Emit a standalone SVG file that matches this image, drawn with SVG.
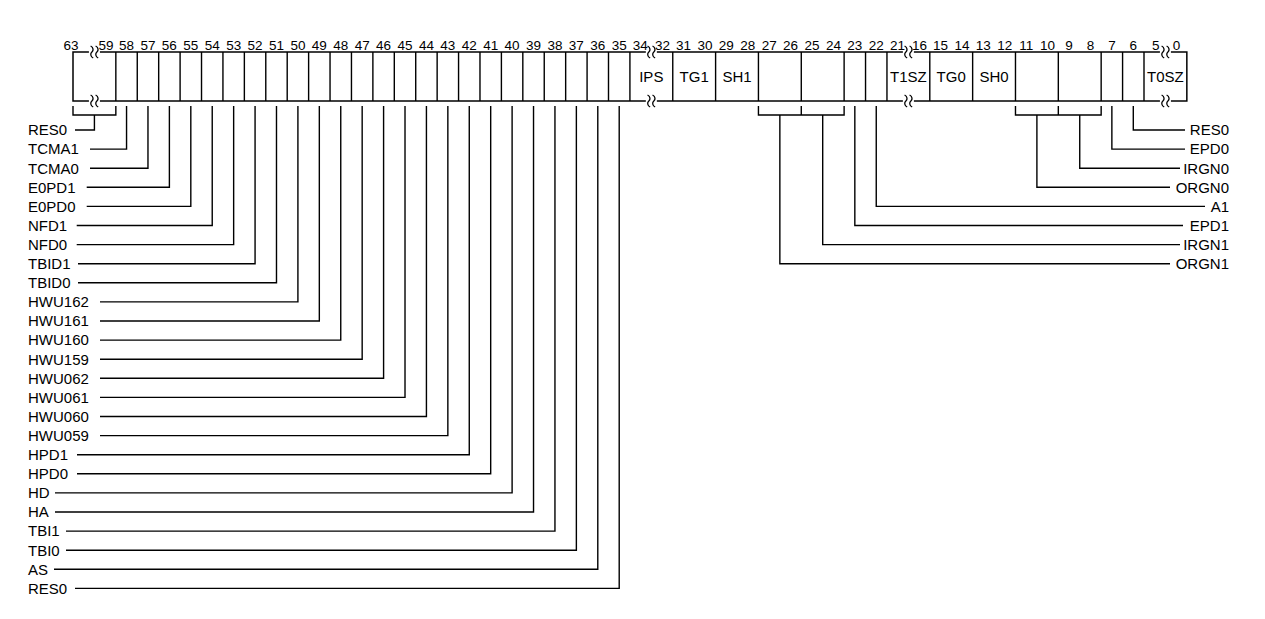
<svg xmlns="http://www.w3.org/2000/svg" width="1265" height="619" viewBox="0 0 1265 619">
<style>
.ln{stroke:#000;stroke-width:1.4;fill:none}
.bx{stroke:#000;stroke-width:1.5;fill:#fff}
text{font-family:"Liberation Sans",Arial,sans-serif;fill:#000}
.lbl{font-size:15px}
.r{text-anchor:end}
.num{font-size:13.5px;text-anchor:middle}
.fld{font-size:15px;text-anchor:middle}
</style>
<defs>
<g id="brk">
<rect x="-5.5" y="-2" width="11" height="4" fill="#fff"/>
<path d="M-3.8,-6 C-0.8,-4.5 -0.8,-1.5 -2.5,0 C-4.2,1.5 -4.2,4.5 -1.2,6 M1.2,-6 C4.2,-4.5 4.2,-1.5 2.5,0 C0.8,1.5 0.8,4.5 3.8,6" fill="none" stroke="#000" stroke-width="1.3"/>
</g>
</defs>
<rect width="1265" height="619" fill="#fff"/>

<g id="register">
<rect class="bx" x="73" y="52" width="1113.84" height="49"/>
<path class="ln" d="M115.84 52V101M137.26 52V101M158.68 52V101M180.1 52V101M201.52 52V101M222.94 52V101M244.36 52V101M265.78 52V101M287.2 52V101M308.62 52V101M330.04 52V101M351.46 52V101M372.88 52V101M394.3 52V101M415.72 52V101M437.14 52V101M458.56 52V101M479.98 52V101M501.4 52V101M522.82 52V101M544.24 52V101M565.66 52V101M587.08 52V101M608.5 52V101M629.92 52V101M672.76 52V101M715.6 52V101M758.44 52V101M801.28 52V101M844.12 52V101M865.54 52V101M886.96 52V101M929.8 52V101M972.64 52V101M1015.48 52V101M1058.32 52V101M1101.16 52V101M1122.58 52V101M1144 52V101"/>
<use href="#brk" x="94.42" y="52"/><use href="#brk" x="94.42" y="101"/>
<use href="#brk" x="651.34" y="52"/><use href="#brk" x="651.34" y="101"/>
<use href="#brk" x="908.38" y="52"/><use href="#brk" x="908.38" y="101"/>
<use href="#brk" x="1165.42" y="52"/><use href="#brk" x="1165.42" y="101"/>
<text class="fld" x="651.3" y="82">IPS</text>
<text class="fld" x="694.2" y="82">TG1</text>
<text class="fld" x="737" y="82">SH1</text>
<text class="fld" x="908.4" y="82">T1SZ</text>
<text class="fld" x="951.2" y="82">TG0</text>
<text class="fld" x="994.1" y="82">SH0</text>
<text class="fld" x="1165.4" y="82">T0SZ</text>
</g>

<g id="bit-numbers">
<text class="num" x="71" y="50">63</text>
<text class="num" x="106" y="50">59</text>
<text class="num" x="126.55" y="50">58</text>
<text class="num" x="147.97" y="50">57</text>
<text class="num" x="169.39" y="50">56</text>
<text class="num" x="190.81" y="50">55</text>
<text class="num" x="212.23" y="50">54</text>
<text class="num" x="233.65" y="50">53</text>
<text class="num" x="255.07" y="50">52</text>
<text class="num" x="276.49" y="50">51</text>
<text class="num" x="297.91" y="50">50</text>
<text class="num" x="319.33" y="50">49</text>
<text class="num" x="340.75" y="50">48</text>
<text class="num" x="362.17" y="50">47</text>
<text class="num" x="383.59" y="50">46</text>
<text class="num" x="405.01" y="50">45</text>
<text class="num" x="426.43" y="50">44</text>
<text class="num" x="447.85" y="50">43</text>
<text class="num" x="469.27" y="50">42</text>
<text class="num" x="490.69" y="50">41</text>
<text class="num" x="512.11" y="50">40</text>
<text class="num" x="533.53" y="50">39</text>
<text class="num" x="554.95" y="50">38</text>
<text class="num" x="576.37" y="50">37</text>
<text class="num" x="597.79" y="50">36</text>
<text class="num" x="619.21" y="50">35</text>
<text class="num" x="640.3" y="50">34</text>
<text class="num" x="662.4" y="50">32</text>
<text class="num" x="683.5" y="50">31</text>
<text class="num" x="704.9" y="50">30</text>
<text class="num" x="726.3" y="50">29</text>
<text class="num" x="747.7" y="50">28</text>
<text class="num" x="769.2" y="50">27</text>
<text class="num" x="790.6" y="50">26</text>
<text class="num" x="812" y="50">25</text>
<text class="num" x="833.4" y="50">24</text>
<text class="num" x="854.8" y="50">23</text>
<text class="num" x="876.3" y="50">22</text>
<text class="num" x="897.4" y="50">21</text>
<text class="num" x="919.4" y="50">16</text>
<text class="num" x="940.5" y="50">15</text>
<text class="num" x="961.9" y="50">14</text>
<text class="num" x="983.3" y="50">13</text>
<text class="num" x="1004.8" y="50">12</text>
<text class="num" x="1026.2" y="50">11</text>
<text class="num" x="1047.6" y="50">10</text>
<text class="num" x="1069" y="50">9</text>
<text class="num" x="1090.4" y="50">8</text>
<text class="num" x="1111.9" y="50">7</text>
<text class="num" x="1133.3" y="50">6</text>
<text class="num" x="1155.7" y="50">5</text>
<text class="num" x="1176.6" y="50">0</text>
</g>

<g id="connectors" class="ln">
<path d="M73 106V115H115.84V106M94.42 115V130H75"/>
<path d="M90 149.1H126.55V106"/>
<path d="M90 168.2H147.97V106"/>
<path d="M86.7 187.3H169.39V106"/>
<path d="M86.7 206.4H190.81V106"/>
<path d="M76.7 225.5H212.23V106"/>
<path d="M76.7 244.6H233.65V106"/>
<path d="M78 263.7H255.07V106"/>
<path d="M78 282.8H276.49V106"/>
<path d="M100 301.9H297.91V106"/>
<path d="M100 321H319.33V106"/>
<path d="M100 340.1H340.75V106"/>
<path d="M100 359.2H362.17V106"/>
<path d="M100 378.3H383.59V106"/>
<path d="M100 397.4H405.01V106"/>
<path d="M100 416.5H426.43V106"/>
<path d="M100 435.6H447.85V106"/>
<path d="M77 454.7H469.27V106"/>
<path d="M77 473.8H490.69V106"/>
<path d="M55 492.9H512.11V106"/>
<path d="M55 512H533.53V106"/>
<path d="M66 531.1H554.95V106"/>
<path d="M66 550.2H576.37V106"/>
<path d="M54 569.3H597.79V106"/>
<path d="M75 588.4H619.21V106"/>
<path d="M758.44 106V115H844.12V106M801.28 106V115"/>
<path d="M1015.48 106V115H1101.16V106M1058.32 106V115"/>
<path d="M1185 130H1133.29V106"/>
<path d="M1185 149.1H1111.87V106"/>
<path d="M1180 168.2H1079.74V115"/>
<path d="M1170 187.3H1036.9V115"/>
<path d="M1205 206.4H876.25V106"/>
<path d="M1183 225.5H854.83V106"/>
<path d="M1180 244.6H822.7V115"/>
<path d="M1170 263.7H779.86V115"/>
</g>

<g id="label-RES0-63-59"><text class="lbl" x="28" y="135.3">RES0</text></g>
<g id="label-TCMA1"><text class="lbl" x="28" y="154.4">TCMA1</text></g>
<g id="label-TCMA0"><text class="lbl" x="28" y="173.5">TCMA0</text></g>
<g id="label-E0PD1"><text class="lbl" x="28" y="192.6">E0PD1</text></g>
<g id="label-E0PD0"><text class="lbl" x="28" y="211.7">E0PD0</text></g>
<g id="label-NFD1"><text class="lbl" x="28" y="230.8">NFD1</text></g>
<g id="label-NFD0"><text class="lbl" x="28" y="249.9">NFD0</text></g>
<g id="label-TBID1"><text class="lbl" x="28" y="269">TBID1</text></g>
<g id="label-TBID0"><text class="lbl" x="28" y="288.1">TBID0</text></g>
<g id="label-HWU162"><text class="lbl" x="28" y="307.2">HWU162</text></g>
<g id="label-HWU161"><text class="lbl" x="28" y="326.3">HWU161</text></g>
<g id="label-HWU160"><text class="lbl" x="28" y="345.4">HWU160</text></g>
<g id="label-HWU159"><text class="lbl" x="28" y="364.5">HWU159</text></g>
<g id="label-HWU062"><text class="lbl" x="28" y="383.6">HWU062</text></g>
<g id="label-HWU061"><text class="lbl" x="28" y="402.7">HWU061</text></g>
<g id="label-HWU060"><text class="lbl" x="28" y="421.8">HWU060</text></g>
<g id="label-HWU059"><text class="lbl" x="28" y="440.9">HWU059</text></g>
<g id="label-HPD1"><text class="lbl" x="28" y="460">HPD1</text></g>
<g id="label-HPD0"><text class="lbl" x="28" y="479.1">HPD0</text></g>
<g id="label-HD"><text class="lbl" x="28" y="498.2">HD</text></g>
<g id="label-HA"><text class="lbl" x="28" y="517.3">HA</text></g>
<g id="label-TBI1"><text class="lbl" x="28" y="536.4">TBI1</text></g>
<g id="label-TBI0"><text class="lbl" x="28" y="555.5">TBI0</text></g>
<g id="label-AS"><text class="lbl" x="28" y="574.6">AS</text></g>
<g id="label-RES0-35"><text class="lbl" x="28" y="593.7">RES0</text></g>

<g id="label-RES0-6"><text class="lbl r" x="1229" y="135.3">RES0</text></g>
<g id="label-EPD0"><text class="lbl r" x="1229" y="154.4">EPD0</text></g>
<g id="label-IRGN0"><text class="lbl r" x="1229" y="173.5">IRGN0</text></g>
<g id="label-ORGN0"><text class="lbl r" x="1229" y="192.6">ORGN0</text></g>
<g id="label-A1"><text class="lbl r" x="1229" y="211.7">A1</text></g>
<g id="label-EPD1"><text class="lbl r" x="1229" y="230.8">EPD1</text></g>
<g id="label-IRGN1"><text class="lbl r" x="1229" y="249.9">IRGN1</text></g>
<g id="label-ORGN1"><text class="lbl r" x="1229" y="269">ORGN1</text></g>
</svg>
